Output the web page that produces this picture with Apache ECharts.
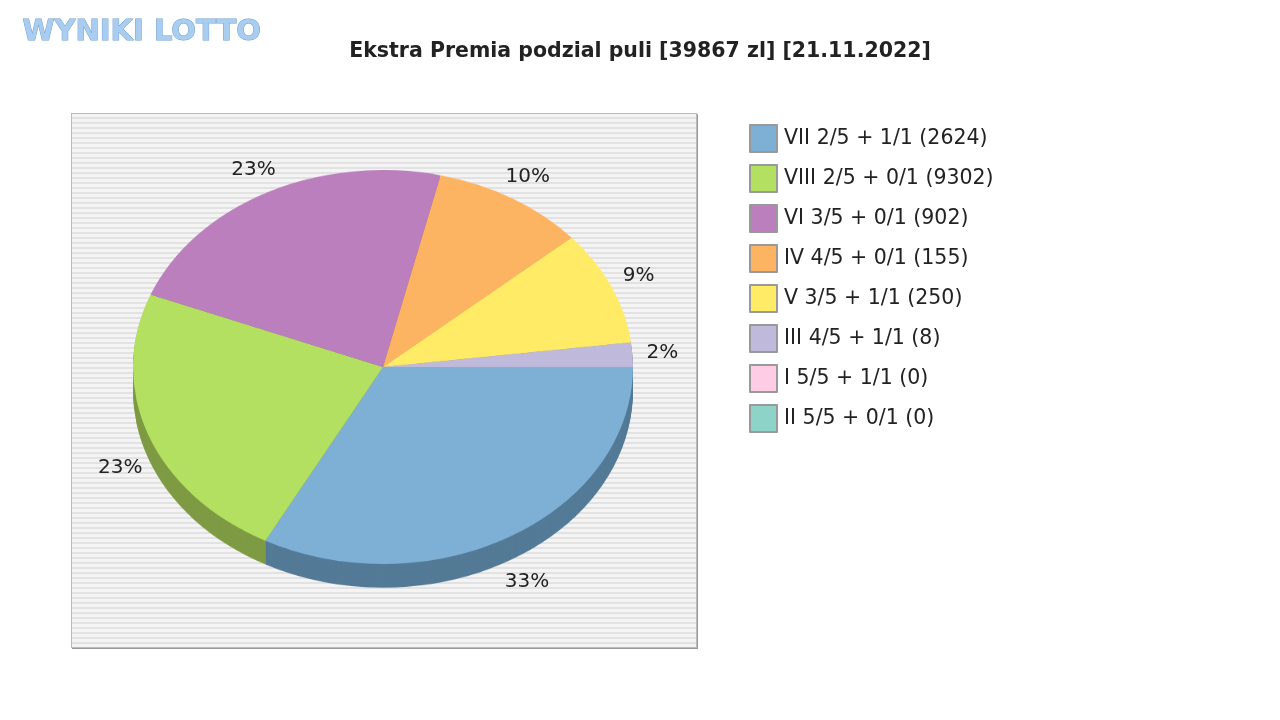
<!DOCTYPE html>
<html><head><meta charset="utf-8">
<script src="https://cdn.jsdelivr.net/npm/echarts@6/dist/echarts.min.js"></script>
<style>
body{margin:0;width:1280px;height:720px;background:#fff;overflow:hidden;position:relative;font-family:"DejaVu Sans",sans-serif}
#bg{position:absolute;left:71px;top:113px;width:624px;height:533px;border:1px solid #bbb;box-shadow:1px 1px 0 #999;
background:repeating-linear-gradient(to bottom,#f4f4f4 0,#f4f4f4 3px,#e2e2e2 3px,#e2e2e2 5px)}
#pie{position:absolute;left:133px;top:117px;width:500px;height:540px;transform:scaleY(0.788);transform-origin:250px 250px}
#main{position:absolute;left:0;top:0;width:1280px;height:720px}
</style></head><body>
<div id="bg"></div>
<div id="pie"></div>
<div id="main"></div>
<script>
var names=["VII 2/5 + 1/1","VIII 2/5 + 0/1","VI 3/5 + 0/1","IV 4/5 + 0/1","V 3/5 + 1/1","III 4/5 + 1/1","I 5/5 + 1/1","II 5/5 + 0/1"];
var winners=[2624,9302,902,155,250,8,0,0];
var shares=[32.8,23.2,22.7,9.9,9.4,2.0,0,0];
var colors=["#7eafd4","#b3e060","#bb7fbd","#fdb462","#ffeb66","#bfbadb","#ffcce5","#8dd3c7"];
var dark=["#537a96","#7e9b44","#835985","#b27e45","#b3a548","#8a8699","#b38fa0","#63948b"];
var title="Ekstra Premia podzial puli [39867 zl] [21.11.2022]";

var pc=echarts.init(document.getElementById('pie'));
var series=[];
for(var k=30;k>=0;k-=2){
  series.push({type:'pie',radius:250,center:[250,250+k],startAngle:0,clockwise:true,silent:true,animation:false,
    label:{show:false},labelLine:{show:false},
    data:names.map(function(n,i){return {name:n,value:shares[i],itemStyle:{color:(k>0?dark:colors)[i]}};})});
}
pc.setOption({series:series});

var mc=echarts.init(document.getElementById('main'));
var g=[{type:'text',left:22,top:17,style:{text:'WYNIKI LOTTO',font:'bold 29px "DejaVu Sans"',fill:'#a9cdf0',stroke:'#6f9fd0',lineWidth:1}}];
var total=shares.reduce(function(a,b){return a+b;},0),cum=0;
shares.forEach(function(v,i){
  if(v<=0)return;
  var a=(cum+v/2)/total*2*Math.PI;cum+=v;
  var c=Math.cos(a),s=Math.sin(a);
  g.push({type:'text',x:383+280*c,y:367+222*s+(s>0?24:0),style:{text:Math.round(v)+'%',font:'20px "DejaVu Sans"',fill:'#222',align:'center',verticalAlign:'middle'}});
});
mc.setOption({
  title:{text:title,left:'center',top:36,textStyle:{fontSize:20.5,fontWeight:'bold',color:'#222',fontFamily:'DejaVu Sans'}},
  legend:{orient:'vertical',left:744,top:119,itemWidth:27,itemHeight:27,itemGap:11,icon:'rect',
    itemStyle:{borderColor:'#999',borderWidth:2},
    textStyle:{fontSize:20.5,color:'#222',fontFamily:'DejaVu Sans',padding:[0,0,0,2]},
    formatter:function(n){return n+' ('+winners[names.indexOf(n)]+')';}},
  series:[{type:'pie',radius:0,center:[-100,-100],silent:true,label:{show:false},
    data:names.map(function(n,i){return {name:n,value:1,itemStyle:{color:colors[i]}};})}],
  graphic:g
});
</script></body></html>
